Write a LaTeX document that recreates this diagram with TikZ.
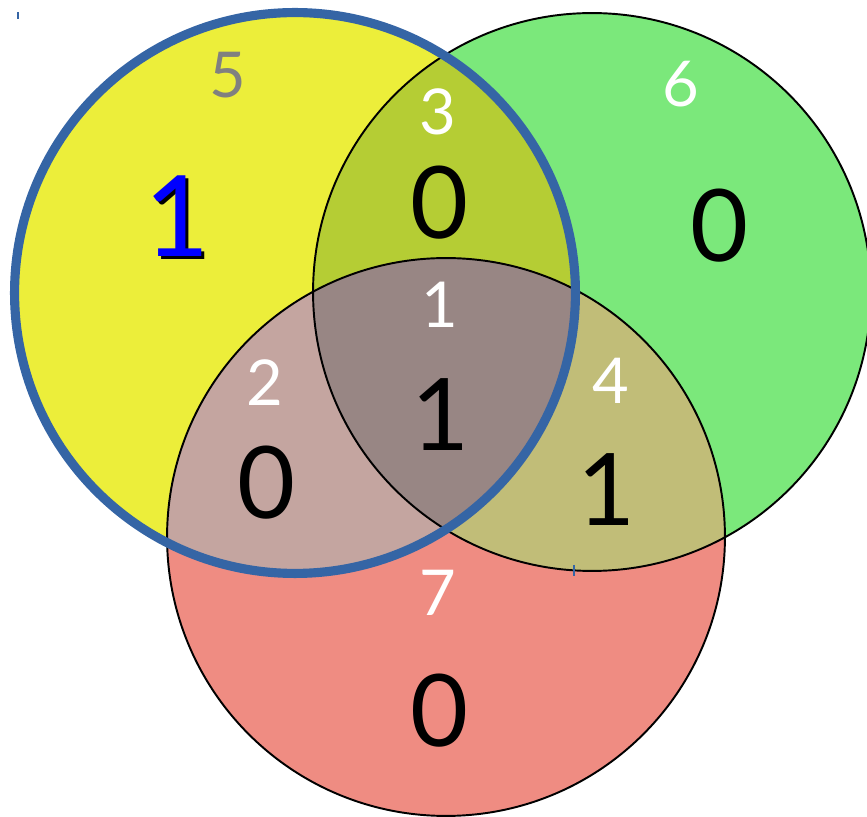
\documentclass[tikz,border=0pt]{standalone}
\usepackage{fontspec}
\setmainfont{Lato}
\usetikzlibrary{calc}

\definecolor{setY}{HTML}{ECEE3A}
\definecolor{setG}{HTML}{7BE87B}
\definecolor{setR}{HTML}{EF8C82}
\definecolor{setYG}{HTML}{B5CD34}
\definecolor{setYR}{HTML}{C4A5A0}
\definecolor{setGR}{HTML}{C1BD78}
\definecolor{setYGR}{HTML}{988684}
\definecolor{rimblue}{HTML}{3565A5}

\newcommand{\rad}{5.58cm}
\newcommand{\radY}{5.61cm}

\tikzset{
  region/.style={font=\fontsize{36}{36}\selectfont, text=white, inner sep=0pt},
  count/.style={font=\fontsize{57}{57}\selectfont, text=black, inner sep=0pt},
  rim/.style={line width=1.1pt, draw=black},
}

\begin{document}
\begin{tikzpicture}[x=0.02cm, y=-0.02cm]

	\useasboundingbox (0,0) rectangle (867,817);

	%% centres of the 3 circles
	\coordinate (Y) at (295,293); % yellow, top left
	\coordinate (G) at (592,292); % green, top right
	\coordinate (R) at (446,537); % red, bottom

	%% single areas
	\fill[setY] (Y) circle (\radY);
	\fill[setG] (G) circle (\rad);
	\fill[setR] (R) circle (\rad);

	%% overlaps of two
	\begin{scope}
		\clip (Y) circle (\radY);
		\fill[setYG] (G) circle (\rad);
		\fill[setYR] (R) circle (\rad);
	\end{scope}
	\begin{scope}
		\clip (G) circle (\rad);
		\fill[setGR] (R) circle (\rad);
	\end{scope}

	%% overlap of all three
	\begin{scope}
		\clip (Y) circle (\radY);
		\clip (G) circle (\rad);
		\fill[setYGR] (R) circle (\rad);
	\end{scope}

	%% outlines
	\draw[rim] (G) circle (\rad);
	\draw[rim] (R) circle (\rad);
	\draw[line width=5.2pt, rimblue] (Y) circle (\radY);

	%% stray marks
	\draw[rimblue, line width=0.8pt] (18,12) -- (18,19);
	\draw[rimblue, line width=0.8pt] (574,565) -- (574,576);

	%% region numbers
	\node[region, text=gray] (n5) at (228,75) {5};
	\node[region] (n3) at (438,112) {3};
	\node[region] (n6) at (681,84) {6};
	\node[region] (n1) at (440,305) {1};
	\node[region] (n2) at (265,383) {2};
	\node[region] (n4) at (611,381) {4};
	\node[region] (n7) at (438,593) {7};

	%% counts
	\node[count, font=\fontsize{64}{64}\selectfont] (c5s) at (180,219) {1}; % shadow
	\node[count, font=\fontsize{64}{64}\selectfont, text=blue] (c5) at (177,216) {1};
	\node[count] (c3) at (440,203) {0};
	\node[count] (c6) at (720,226) {0};
	\node[count] (c1) at (441,415) {1};
	\node[count] (c2) at (267,483) {0};
	\node[count] (c4) at (607,490) {1};
	\node[count] (c7) at (440,711) {0};

\end{tikzpicture}
\end{document}
